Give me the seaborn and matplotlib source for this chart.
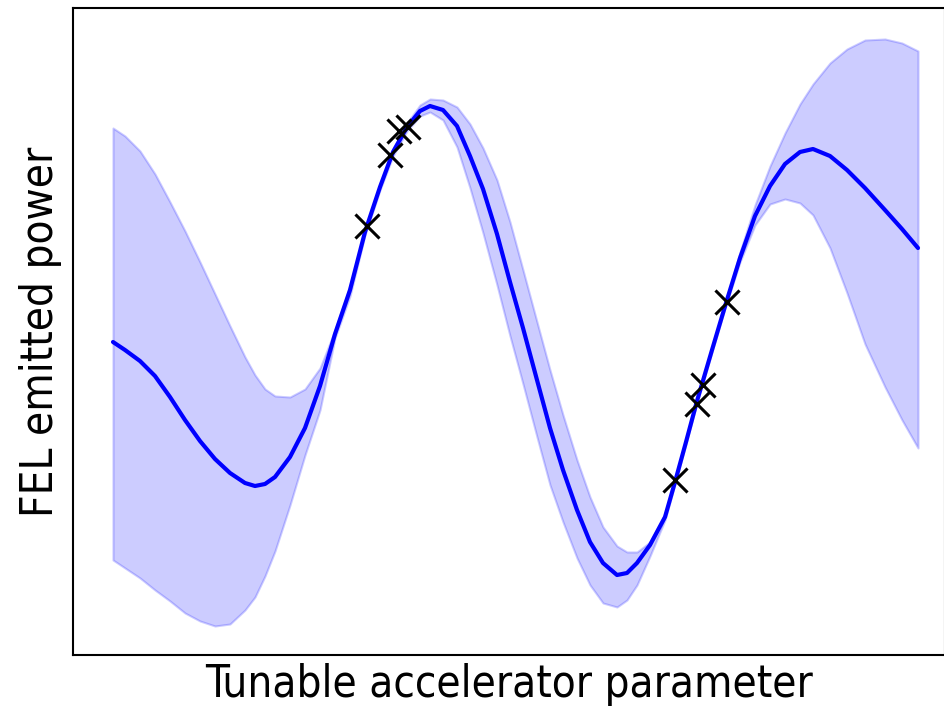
import pandas as pd
import matplotlib
matplotlib.use("Agg")
import matplotlib.pyplot as plt
import seaborn as sns

sns.set_style("white")
plt.rcParams["font.family"] = ["DejaVu Sans"]

# GP posterior (arbitrary units)
x_grid = [0.00, 0.12, 0.27, 0.42, 0.57, 0.72, 0.87, 1.02, 1.17, 1.32,
          1.42, 1.52, 1.62, 1.77, 1.92, 2.07, 2.22, 2.37, 2.52, 2.67,
          2.80, 2.94, 3.07, 3.17, 3.30, 3.44, 3.57, 3.70, 3.84, 3.97,
          4.10, 4.24, 4.37, 4.50, 4.64, 4.77, 4.90, 5.04, 5.14, 5.24,
          5.37, 5.52, 5.62, 5.73, 5.84, 5.99, 6.13, 6.27, 6.42, 6.57,
          6.72, 6.87, 7.00, 7.17, 7.34, 7.52, 7.72, 7.89, 8.05]
mean = [3.13, 3.05, 2.94, 2.79, 2.58, 2.35, 2.14, 1.96, 1.82, 1.72,
        1.69, 1.71, 1.78, 1.98, 2.27, 2.69, 3.21, 3.65, 4.23, 4.68,
        5.03, 5.28, 5.44, 5.49, 5.45, 5.29, 4.99, 4.66, 4.21, 3.73,
        3.27, 2.75, 2.27, 1.85, 1.45, 1.13, 0.92, 0.80, 0.82, 0.92,
        1.10, 1.38, 1.73, 2.13, 2.54, 3.05, 3.52, 3.97, 4.39, 4.69,
        4.91, 5.03, 5.06, 4.99, 4.85, 4.67, 4.45, 4.26, 4.07]
upper = [5.27, 5.19, 5.04, 4.81, 4.53, 4.24, 3.93, 3.61, 3.29, 2.98,
         2.80, 2.66, 2.59, 2.58, 2.66, 2.87, 3.25, 3.69, 4.26, 4.71,
         5.06, 5.32, 5.50, 5.56, 5.55, 5.48, 5.31, 5.07, 4.75, 4.33,
         3.85, 3.33, 2.85, 2.40, 1.95, 1.58, 1.28, 1.09, 1.03, 1.03,
         1.13, 1.41, 1.75, 2.15, 2.56, 3.07, 3.54, 4.03, 4.50, 4.89,
         5.22, 5.51, 5.71, 5.92, 6.06, 6.15, 6.16, 6.12, 6.04]
lower = [0.95, 0.87, 0.77, 0.65, 0.54, 0.42, 0.34, 0.29, 0.31, 0.45,
         0.58, 0.79, 1.04, 1.50, 2.00, 2.45, 3.17, 3.59, 4.20, 4.65,
         4.99, 5.24, 5.39, 5.43, 5.35, 5.08, 4.67, 4.22, 3.70, 3.19,
         2.71, 2.18, 1.70, 1.33, 0.97, 0.70, 0.52, 0.48, 0.55, 0.70,
         0.99, 1.35, 1.71, 2.11, 2.52, 3.03, 3.50, 3.93, 4.30, 4.51,
         4.56, 4.52, 4.40, 4.07, 3.62, 3.11, 2.68, 2.35, 2.07]

# observed samples
obs_x = [2.54, 2.77, 2.86, 2.95, 5.62, 5.84, 5.90, 6.14]
obs_y = [4.29, 5.00, 5.24, 5.28, 1.75, 2.51, 2.70, 3.53]

gp = pd.DataFrame({"x": x_grid, "mean": mean, "upper": upper, "lower": lower})
obs = pd.DataFrame({"x": obs_x, "y": obs_y})

fig = plt.figure(figsize=(9.45, 7.09), dpi=100)
ax = fig.add_axes([73 / 945, 54 / 709, 872 / 945, 647 / 709])

ax.fill_between(gp["x"], gp["lower"], gp["upper"], color="blue", alpha=0.2, linewidth=1.5)
sns.lineplot(x="x", y="mean", data=gp, color="blue", linewidth=3, ax=ax)
sns.scatterplot(x="x", y="y", data=obs, marker="x", color="black", s=300,
                linewidth=2.2, zorder=5, ax=ax)

ax.set_xlim(-0.40, 8.32)
ax.set_ylim(0, 6.47)
ax.set_xticks([])
ax.set_yticks([])
for sp in ax.spines.values():
    sp.set_color("black")
    sp.set_linewidth(1.5)

ax.set_xlabel("Tunable accelerator parameter", fontsize=31.5, fontstretch="condensed",
              color="black", labelpad=6)
ax.set_ylabel("FEL emitted power", fontsize=31.5, fontstretch="condensed",
              color="black", labelpad=8)

fig.savefig("out.png", dpi=100)
